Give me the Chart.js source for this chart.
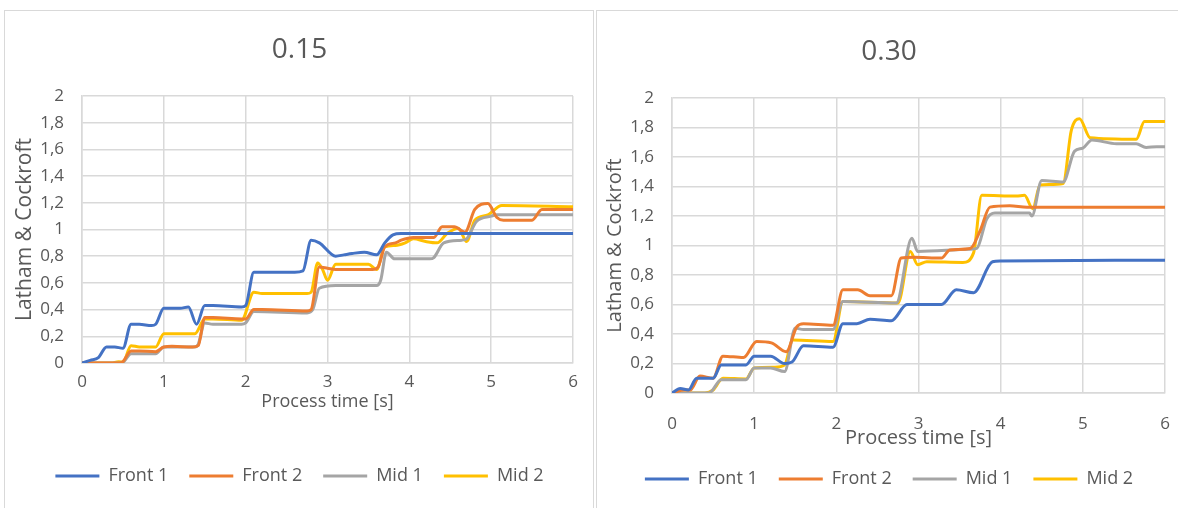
<!DOCTYPE html>
<html>
<head>
<meta charset="utf-8">
<script src="https://cdn.jsdelivr.net/npm/chart.js@4.4.1/dist/chart.umd.min.js"></script>
<style>
  body { margin: 0; background: #fff; width: 1178px; height: 508px; overflow: hidden; position: relative; }
  .panel { position: absolute; top: 10px; height: 520px; border: 1px solid #d9d9d9; box-sizing: border-box; }
  #panel1 { left: 4px; width: 590px; }
  #panel2 { left: 596px; width: 590px; }
  canvas { position: absolute; }
</style>
</head>
<body>
<div class="panel" id="panel1"></div>
<div class="panel" id="panel2"></div>
<canvas id="chart015" width="591" height="498" style="left:4px;top:10px"></canvas>
<canvas id="chart030" width="586" height="498" style="left:596px;top:10px"></canvas>
<script>
// series shared by both charts
const seriesNames = ['Front 1', 'Front 2', 'Mid 1', 'Mid 2'];
const seriesColors = ['#4472C4', '#ED7D31', '#A5A5A5', '#FFC000'];
const chartTitles = ['0.15', '0.30'];

// 0.15 chart, points are [process time s, Latham & Cockroft]
const front1_015 = [[0,0],[0.1,0.02],[0.2,0.04],[0.3,0.12],[0.4,0.12],[0.5,0.11],[0.6,0.29],[0.7,0.29],[0.85,0.28],[0.9,0.29],[1.0,0.41],[1.1,0.41],[1.2,0.41],[1.3,0.42],[1.4,0.29],[1.5,0.43],[1.6,0.43],[1.95,0.42],[2.0,0.43],[2.1,0.68],[2.2,0.68],[2.6,0.68],[2.7,0.69],[2.8,0.92],[2.9,0.9],[3.1,0.8],[3.2,0.81],[3.3,0.82],[3.45,0.83],[3.6,0.81],[3.7,0.9],[3.8,0.96],[3.9,0.97],[6,0.97]];
const front2_015 = [[0,0],[0.45,0],[0.5,0.01],[0.6,0.09],[0.7,0.09],[0.9,0.085],[1.0,0.12],[1.1,0.125],[1.35,0.12],[1.42,0.13],[1.5,0.34],[1.6,0.34],[1.95,0.33],[2.0,0.33],[2.1,0.40],[2.2,0.40],[2.75,0.39],[2.8,0.40],[2.9,0.72],[3.0,0.71],[3.1,0.70],[3.55,0.70],[3.62,0.72],[3.7,0.87],[3.83,0.90],[3.9,0.92],[4.05,0.94],[4.3,0.94],[4.4,1.02],[4.55,1.02],[4.68,0.98],[4.8,1.15],[4.96,1.195],[5.07,1.09],[5.15,1.07],[5.5,1.07],[5.62,1.15],[6,1.15]];
const mid1_015 = [[0,0],[0.45,0],[0.5,0.005],[0.6,0.07],[0.9,0.07],[1.0,0.12],[1.38,0.12],[1.42,0.14],[1.5,0.30],[1.6,0.29],[1.95,0.29],[2.0,0.30],[2.1,0.385],[2.75,0.375],[2.82,0.40],[2.9,0.56],[3.1,0.58],[3.6,0.58],[3.65,0.62],[3.72,0.83],[3.82,0.78],[4.25,0.78],[4.3,0.79],[4.42,0.90],[4.64,0.92],[4.7,0.93],[4.82,1.06],[5.0,1.10],[5.07,1.11],[6,1.11]];
const mid2_015 = [[0,0],[0.35,0],[0.45,0.01],[0.5,0.005],[0.6,0.13],[0.7,0.12],[0.9,0.12],[1.0,0.22],[1.1,0.22],[1.38,0.22],[1.5,0.33],[1.6,0.33],[1.95,0.32],[2.1,0.53],[2.2,0.52],[2.75,0.52],[2.8,0.53],[2.88,0.75],[2.94,0.70],[3.0,0.62],[3.1,0.74],[3.5,0.74],[3.6,0.70],[3.7,0.87],[3.83,0.88],[3.95,0.90],[4.05,0.93],[4.2,0.91],[4.34,0.90],[4.46,0.97],[4.6,1.01],[4.7,0.91],[4.8,1.07],[4.96,1.11],[5.13,1.18],[6,1.17]];

// 0.30 chart
const front1_030 = [[0,0],[0.1,0.03],[0.2,0.02],[0.3,0.1],[0.5,0.1],[0.6,0.19],[0.9,0.19],[1.0,0.25],[1.2,0.25],[1.37,0.20],[1.46,0.21],[1.6,0.32],[1.96,0.31],[2.08,0.47],[2.25,0.47],[2.41,0.50],[2.67,0.49],[2.86,0.60],[3.28,0.60],[3.46,0.70],[3.67,0.68],[3.9,0.89],[4.0,0.895],[6,0.90]];
const front2_030 = [[0,0],[0.15,0.02],[0.22,0.02],[0.34,0.115],[0.5,0.10],[0.62,0.25],[0.87,0.24],[1.03,0.35],[1.21,0.34],[1.39,0.28],[1.52,0.45],[1.6,0.47],[1.96,0.46],[2.08,0.70],[2.26,0.70],[2.41,0.66],[2.67,0.66],[2.79,0.915],[2.94,0.92],[3.28,0.915],[3.38,0.97],[3.63,0.98],[3.75,1.10],[3.87,1.26],[4.11,1.27],[4.32,1.26],[6,1.26]];
const mid1_030 = [[0,0],[0.45,0],[0.6,0.09],[0.9,0.09],[1.0,0.17],[1.2,0.17],[1.37,0.145],[1.5,0.44],[1.6,0.43],[1.96,0.43],[2.08,0.62],[2.73,0.61],[2.92,1.05],[2.99,0.96],[3.63,0.975],[3.71,0.98],[3.83,1.18],[3.93,1.22],[4.35,1.22],[4.38,1.20],[4.5,1.44],[4.76,1.43],[4.9,1.64],[5.0,1.66],[5.11,1.715],[5.41,1.69],[5.65,1.69],[5.77,1.665],[5.9,1.67],[6,1.67]];
const mid2_030 = [[0,0],[0.4,0],[0.5,0.02],[0.62,0.10],[0.9,0.095],[1.0,0.17],[1.25,0.175],[1.37,0.19],[1.47,0.36],[1.96,0.35],[2.08,0.62],[2.75,0.61],[2.9,0.96],[2.99,0.87],[3.1,0.89],[3.54,0.885],[3.67,0.95],[3.77,1.34],[4.19,1.335],[4.29,1.34],[4.39,1.25],[4.48,1.41],[4.76,1.42],[4.86,1.78],[4.96,1.86],[5.09,1.73],[5.65,1.72],[5.75,1.84],[6,1.84]];

const textColor = '#595959';
const gridColor = '#d9d9d9';
const fontFamily = "'Open Sans', 'Noto Sans', sans-serif";

function makeChart(id, title, seriesData, L) {
    const ctx = document.getElementById(id).getContext('2d');
    return new Chart(ctx, {
        type: 'line',
        data: {
            datasets: seriesData.map((pts, i) => ({
                label: seriesNames[i],
                data: pts.map(p => ({ x: p[0], y: p[1] })),
                borderColor: seriesColors[i],
                backgroundColor: seriesColors[i],
                borderWidth: 3,
                pointRadius: 0,
                pointStyle: 'line',
                cubicInterpolationMode: 'monotone',
                fill: false
            }))
        },
        options: {
            responsive: false,
            animation: false,
            layout: { padding: L.padding },
            plugins: {
                title: {
                    display: true, text: title, color: textColor,
                    font: { family: fontFamily, size: 28, weight: 'normal' },
                    padding: { top: L.titleTop, bottom: L.titleBottom }
                },
                legend: {
                    position: 'bottom',
                    labels: {
                        usePointStyle: true, pointStyle: 'line', pointStyleWidth: 44,
                        padding: 21, color: textColor,
                        font: { family: fontFamily, size: 18 }
                    }
                },
                tooltip: { enabled: false }
            },
            scales: {
                x: {
                    type: 'linear', min: 0, max: 6,
                    ticks: { stepSize: 1, padding: L.xTickPad, color: textColor, font: { family: fontFamily, size: 17 } },
                    grid: { color: gridColor, lineWidth: 1.5, drawTicks: false },
                    border: { color: gridColor, width: 1.5 },
                    title: { display: true, text: 'Process time [s]', color: textColor,
                             font: { family: fontFamily, size: L.xTitleSize },
                             padding: { top: 0, bottom: L.xTitlePad } },
                    // fixed axis band height and right gap so both plots line up with the picture
                    afterFit: s => { s.height = L.xHeight; s.paddingRight = L.plotRightGap; }
                },
                y: {
                    min: 0, max: 2,
                    ticks: { stepSize: 0.2, padding: L.yTickPad, color: textColor, font: { family: fontFamily, size: 17 },
                             callback: v => String(Math.round(v * 10) / 10).replace('.', ',') },
                    grid: { color: gridColor, lineWidth: 1.5, drawTicks: false },
                    border: { color: gridColor, width: 1.5 },
                    title: { display: true, text: 'Latham & Cockroft', color: textColor,
                             font: { family: fontFamily, size: L.yTitleSize },
                             padding: { top: L.yTitlePad, bottom: 0 } },
                    afterFit: s => { s.width = L.yWidth; }
                }
            }
        }
    });
}

makeChart('chart015', chartTitles[0], [front1_015, front2_015, mid1_015, mid2_015], {
    padding: { left: 0, right: 0, top: 0, bottom: 13 },
    titleTop: 23.2, titleBottom: 29.2, plotRightGap: 22,
    yWidth: 78, yTitleSize: 21, yTitlePad: 8.4, yTickPad: 18,
    xHeight: 83, xTickPad: 8.5, xTitleSize: 18, xTitlePad: 33.2
});

makeChart('chart030', chartTitles[1], [front1_030, front2_030, mid1_030, mid2_030], {
    padding: { left: 0, right: 0, top: 0, bottom: 10 },
    titleTop: 25.2, titleBottom: 29.2, plotRightGap: 17,
    yWidth: 76, yTitleSize: 20, yTitlePad: 7, yTickPad: 18,
    xHeight: 56, xTickPad: 20.5, xTitleSize: 20, xTitlePad: -1
});
</script>
</body>
</html>
